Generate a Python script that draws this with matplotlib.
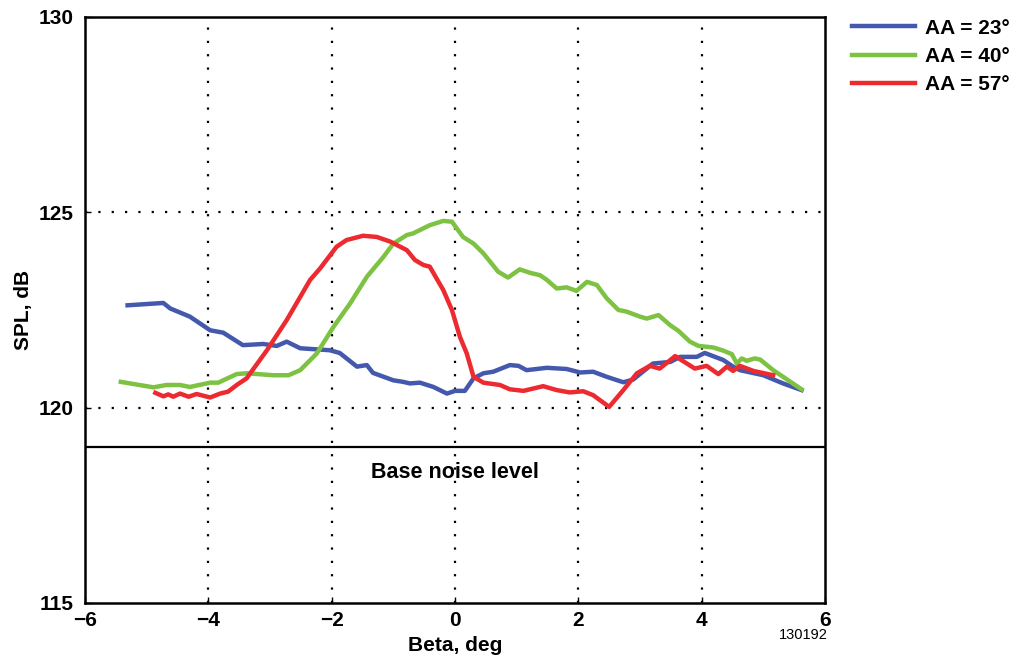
import matplotlib
matplotlib.use('Agg')
import matplotlib.pyplot as plt

plt.rcParams['font.family'] = ['Liberation Sans', 'DejaVu Sans']

BLUE = '#4459ad'
GREEN = '#7dc242'
RED = '#ec2a2f'

# AA = 23 deg
beta_23 = [-5.31, -4.73, -4.62, -4.30, -3.97, -3.76, -3.44, -3.11, -2.89, -2.73, -2.51,
           -2.03, -1.87, -1.59, -1.43, -1.33, -1.00, -0.84, -0.73, -0.57, -0.35, -0.13,
           0.0, 0.16, 0.30, 0.46, 0.62, 0.89, 1.03, 1.16, 1.49, 1.81, 2.03, 2.24, 2.46,
           2.73, 2.89, 3.21, 3.49, 3.65, 3.92, 4.05, 4.35, 4.51, 4.62, 5.00, 5.32, 5.62]
spl_23 = [122.62, 122.68, 122.54, 122.33, 121.98, 121.92, 121.60, 121.63, 121.58, 121.69, 121.52,
          121.47, 121.40, 121.05, 121.09, 120.89, 120.70, 120.66, 120.62, 120.64, 120.53, 120.36,
          120.43, 120.43, 120.75, 120.88, 120.92, 121.09, 121.07, 120.96, 121.02, 120.99, 120.90, 120.92, 120.79,
          120.65, 120.72, 121.13, 121.17, 121.30, 121.30, 121.40, 121.22, 121.05, 120.96, 120.83, 120.62, 120.45]

# AA = 40 deg
beta_40 = [-5.42, -4.89, -4.68, -4.46, -4.30, -3.97, -3.84, -3.54, -3.38, -2.95, -2.70, -2.51,
           -2.24, -1.97, -1.70, -1.43, -1.16, -1.00, -0.78, -0.68, -0.41, -0.19, -0.05, 0.13,
           0.30, 0.46, 0.70, 0.86, 1.05, 1.22, 1.38, 1.49, 1.65, 1.81, 1.97, 2.14, 2.30, 2.46,
           2.65, 2.78, 3.00, 3.11, 3.30, 3.49, 3.62, 3.81, 3.95, 4.19, 4.35, 4.49, 4.57, 4.65,
           4.73, 4.86, 4.95, 5.16, 5.62]
spl_40 = [120.66, 120.52, 120.58, 120.58, 120.53, 120.64, 120.64, 120.86, 120.88, 120.83, 120.83, 120.96,
          121.39, 122.07, 122.67, 123.35, 123.86, 124.20, 124.42, 124.46, 124.67, 124.78, 124.76, 124.37,
          124.20, 123.95, 123.48, 123.33, 123.54, 123.45, 123.39, 123.27, 123.05, 123.08, 122.99, 123.22, 123.14, 122.80,
          122.50, 122.46, 122.33, 122.28, 122.37, 122.11, 121.97, 121.69, 121.58, 121.54, 121.46, 121.37, 121.13, 121.26,
          121.20, 121.26, 121.23, 120.96, 120.47]

# AA = 57 deg
beta_57 = [-4.86, -4.73, -4.65, -4.57, -4.46, -4.32, -4.19, -3.97, -3.81, -3.68, -3.54, -3.38,
           -3.05, -2.73, -2.35, -2.19, -1.92, -1.76, -1.49, -1.27, -1.05, -0.78, -0.65, -0.51,
           -0.41, -0.19, -0.05, 0.08, 0.19, 0.30, 0.46, 0.73, 0.89, 1.11, 1.43, 1.65, 1.86,
           2.08, 2.24, 2.50, 2.73, 2.95, 3.16, 3.32, 3.57, 3.76, 3.89, 4.08, 4.27, 4.41, 4.51,
           4.62, 4.84, 5.16]
spl_57 = [120.38, 120.29, 120.34, 120.28, 120.36, 120.28, 120.35, 120.26, 120.36, 120.41, 120.58, 120.75,
          121.47, 122.24, 123.27, 123.56, 124.12, 124.29, 124.40, 124.37, 124.25, 124.03, 123.78, 123.65,
          123.61, 123.01, 122.50, 121.81, 121.39, 120.79, 120.64, 120.58, 120.47, 120.43, 120.55, 120.45, 120.39,
          120.42, 120.32, 120.02, 120.45, 120.88, 121.07, 121.00, 121.32, 121.13, 121.00, 121.07, 120.86, 121.05, 120.94,
          121.07, 120.94, 120.83]

BASE_NOISE = 119.0

x_ticks = [-6, -4, -2, 0, 2, 4, 6]
y_ticks = [115, 120, 125, 130]
x_labels = ['\u22126', '\u22124', '\u22122', '0', '2', '4', '6']


def main():
    fig = plt.figure(figsize=(10.1, 6.66), dpi=100)
    ax = fig.add_axes([0.0842, 0.0946, 0.7326, 0.8799])

    # dotted grid
    for gx in [-4, -2, 0, 2, 4]:
        ax.axvline(gx, color='black', linestyle=(0, (1, 5)), linewidth=1.6, zorder=1)
    for gy in [120, 125]:
        ax.axhline(gy, color='black', linestyle=(0, (1, 5)), linewidth=1.6, zorder=1)

    ax.axhline(BASE_NOISE, color='black', linewidth=1.6, zorder=2)
    ax.text(0.0, 118.35, 'Base noise level', ha='center', va='center',
            fontsize=15.5, fontweight='bold')

    ax.plot(beta_23, spl_23, color=BLUE, linewidth=3.2, label='AA = 23\u00b0', zorder=3)
    ax.plot(beta_40, spl_40, color=GREEN, linewidth=3.2, label='AA = 40\u00b0', zorder=3)
    ax.plot(beta_57, spl_57, color=RED, linewidth=3.2, label='AA = 57\u00b0', zorder=4)

    ax.set_xlim(-6, 6)
    ax.set_ylim(115, 130)
    ax.set_xticks(x_ticks)
    ax.set_xticklabels(x_labels)
    ax.set_yticks(y_ticks)
    ax.tick_params(direction='in', length=4, width=1, labelsize=15, pad=8)
    ax.tick_params(axis='x', pad=6)
    for lab in ax.get_xticklabels() + ax.get_yticklabels():
        lab.set_fontweight('bold')
    for sp in ax.spines.values():
        sp.set_linewidth(1.8)

    ax.set_xlabel('Beta, deg', fontsize=15, fontweight='bold', labelpad=4)
    ax.set_ylabel('SPL, dB', fontsize=15, fontweight='bold', labelpad=4)

    leg = fig.legend(loc='upper left', bbox_to_anchor=(0.825, 1.0), frameon=False,
                     prop={'size': 15, 'weight': 'bold'}, handlelength=3.0,
                     handletextpad=0.5, labelspacing=0.45)
    for line in leg.get_lines():
        line.set_linewidth(3.2)

    fig.text(0.82, 0.046, '130192', ha='right', va='center', fontsize=10.5)

    fig.savefig('out.png', dpi=100)
    plt.close('all')


if __name__ == '__main__':
    main()
